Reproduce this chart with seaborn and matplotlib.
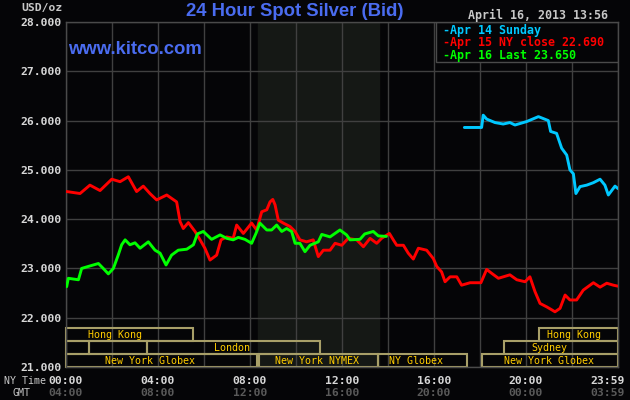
import pandas as pd
import seaborn as sns
import matplotlib
matplotlib.use('Agg')
import matplotlib.pyplot as plt
from matplotlib.patches import Rectangle

# hours after 00:00 NY time, price in USD/oz
apr15_hours = [0.03, 0.61, 1.04, 1.48, 1.99, 2.35, 2.71, 3.07, 3.36, 3.65, 3.94, 4.38, 4.81, 4.96, 5.1,
               5.32, 5.61, 5.83, 6.04, 6.26, 6.55, 6.74, 6.99, 7.27, 7.42, 7.71, 8.07, 8.29, 8.51, 8.73,
               8.87, 8.99, 9.09, 9.23, 9.45, 9.74, 9.96, 10.17, 10.46, 10.75, 10.97, 11.19, 11.48, 11.7,
               11.99, 12.27, 12.64, 12.93, 13.22, 13.51, 13.72, 14.06, 14.23, 14.38, 14.67, 14.88, 15.1,
               15.32, 15.68, 15.97, 16.12, 16.33, 16.48, 16.7, 16.99, 17.2, 17.57, 18.04, 18.29, 18.51,
               18.8, 19.3, 19.6, 19.96, 20.17, 20.39, 20.61, 20.9, 21.12, 21.26, 21.48, 21.7, 21.91,
               22.2, 22.49, 22.93, 23.22, 23.51, 23.8, 24.0]
apr15_price = [24.56, 24.52, 24.69, 24.58, 24.81, 24.76, 24.86, 24.56, 24.67, 24.52, 24.39, 24.49, 24.35,
               23.95, 23.81, 23.93, 23.75, 23.58, 23.41, 23.17, 23.27, 23.58, 23.64, 23.61, 23.88, 23.71,
               23.92, 23.78, 24.15, 24.19, 24.35, 24.40, 24.29, 23.98, 23.92, 23.85, 23.75, 23.58, 23.54,
               23.58, 23.24, 23.37, 23.37, 23.51, 23.47, 23.61, 23.58, 23.44, 23.61, 23.51, 23.61, 23.71,
               23.58, 23.47, 23.47, 23.31, 23.19, 23.41, 23.37, 23.20, 23.04, 22.93, 22.73, 22.83, 22.83,
               22.66, 22.71, 22.71, 22.98, 22.90, 22.80, 22.87, 22.77, 22.73, 22.83, 22.53, 22.29, 22.22,
               22.16, 22.12, 22.19, 22.46, 22.36, 22.36, 22.56, 22.71, 22.62, 22.70, 22.66, 22.64]

apr16_hours = [0.03, 0.1, 0.54, 0.68, 1.04, 1.41, 1.62, 1.84, 2.06, 2.27, 2.42, 2.57, 2.78, 3.0, 3.22,
               3.58, 3.87, 4.09, 4.35, 4.59, 4.88, 5.25, 5.54, 5.71, 5.97, 6.33, 6.7, 6.99, 7.27, 7.49,
               7.78, 8.07, 8.26, 8.43, 8.73, 8.94, 9.16, 9.38, 9.59, 9.81, 9.96, 10.17, 10.39, 10.61,
               10.97, 11.12, 11.48, 11.91, 12.2, 12.35, 12.78, 12.99, 13.36, 13.58, 13.93]
apr16_price = [22.63, 22.80, 22.77, 23.0, 23.05, 23.10, 23.0, 22.89, 23.0, 23.27, 23.48, 23.58, 23.48,
               23.52, 23.41, 23.54, 23.37, 23.31, 23.07, 23.27, 23.37, 23.39, 23.48, 23.70, 23.75, 23.59,
               23.68, 23.61, 23.58, 23.63, 23.59, 23.51, 23.71, 23.92, 23.78, 23.78, 23.88, 23.75, 23.81,
               23.75, 23.51, 23.51, 23.34, 23.47, 23.54, 23.69, 23.64, 23.78, 23.68, 23.58, 23.59, 23.70,
               23.75, 23.66, 23.65]

apr14_hours = [17.32, 18.07, 18.14, 18.29, 18.65, 19.01, 19.3, 19.52, 20.03, 20.54, 20.97, 21.07, 21.33,
               21.55, 21.77, 21.91, 22.06, 22.17, 22.35, 22.64, 22.93, 23.22, 23.43, 23.58, 23.87, 24.0]
apr14_price = [25.86, 25.86, 26.11, 26.03, 25.96, 25.93, 25.96, 25.91, 25.98, 26.08, 26.0, 25.78, 25.74,
               25.44, 25.30, 25.0, 24.92, 24.52, 24.66, 24.69, 24.74, 24.81, 24.69, 24.49, 24.67, 24.62]

series_labels = ['Apr 14 Sunday', 'Apr 15 NY close 22.690', 'Apr 16 Last 23.650']
series_colors = ['#00c8ff', '#ff0000', '#00ff00']

# trading sessions: name, start hour, end hour, row (0 = bottom), label centre hour
sessions = [
    ('Hong Kong', 0.0, 5.52, 2, 2.13),
    ('', 0.0, 1.0, 1, None),
    ('', 1.0, 3.52, 1, None),
    ('London', 3.52, 11.04, 1, 7.2),
    ('New York Globex', 0.0, 8.3, 0, 3.65),
    ('New York NYMEX', 8.4, 13.56, 0, 10.9),
    ('NY Globex', 13.56, 17.43, 0, 15.2),
    ('New York Globex', 18.09, 24.0, 0, 21.0),
    ('Sydney', 19.04, 24.0, 1, 21.02),
    ('Hong Kong', 20.56, 24.0, 2, 22.1),
]

ny_ticks = [0, 4, 8, 12, 16, 20, 23.98]
ny_labels = ['00:00', '04:00', '08:00', '12:00', '16:00', '20:00', '23:59']
gmt_labels = ['04:00', '08:00', '12:00', '16:00', '20:00', '00:00', '03:59']

df = pd.concat([
    pd.DataFrame({'hour': apr14_hours, 'price': apr14_price, 'day': series_labels[0]}),
    pd.DataFrame({'hour': apr15_hours, 'price': apr15_price, 'day': series_labels[1]}),
    pd.DataFrame({'hour': apr16_hours, 'price': apr16_price, 'day': series_labels[2]}),
])

sns.set_style('dark')
plt.rcParams['font.family'] = ['DejaVu Sans Mono']
mono = dict(family='DejaVu Sans Mono', weight='bold')
bg = '#050507'

fig = plt.figure(figsize=(6.3, 4.0), dpi=100, facecolor=bg)
ax = fig.add_axes([66 / 630, 33 / 400, 552 / 630, 345 / 400])
ax.set_facecolor(bg)

ax.axvspan(8.35, 13.6, color='#151815', zorder=0)

sns.lineplot(data=df, x='hour', y='price', hue='day', palette=dict(zip(series_labels, series_colors)),
             estimator=None, sort=False, linewidth=2.1, ax=ax, legend=False, zorder=3)

ax.set_xlim(0, 24)
ax.set_ylim(21, 28)
ax.set_xticks(range(0, 25, 2))
ax.set_yticks(range(21, 29))
ax.set_yticklabels([f'{v:.3f}' for v in range(21, 29)], color='#d8d8d8', fontsize=8.2, **mono)
ax.set_xticklabels([])
ax.tick_params(length=0, pad=3.5)
ax.grid(True, color='#404040', linewidth=1)
ax.set_axisbelow(True)
ax.set_xlabel('')
ax.set_ylabel('')
for s in ax.spines.values():
    s.set_visible(True)
    s.set_color('#4a4a4a')
    s.set_linewidth(1)

# session boxes
row_h = 0.263
for name, start, end, row, mid in sessions:
    y0 = 21 + row * row_h
    ax.add_patch(Rectangle((start, y0), end - start, row_h, fill=False, edgecolor='#a89f68',
                           linewidth=1.5, zorder=2, clip_on=False))
    if name:
        ax.text(mid, y0 + row_h / 2, name, color='#ffcc00', fontsize=7.2, ha='center',
                va='center', zorder=4, family='DejaVu Sans Mono')

# legend box
ax.add_patch(Rectangle((0.67, 0.885), 0.33, 0.115, transform=ax.transAxes, facecolor=bg,
                       edgecolor='#4a4a4a', linewidth=1, zorder=2.5))
for i, (lab, col) in enumerate(zip(series_labels, series_colors)):
    ax.text(0.683, 0.975 - i * 0.0357, '-' + lab, transform=ax.transAxes, color=col,
            fontsize=8.4, va='center', ha='left', zorder=5, **mono)

# time axis labels
for t, ny, gmt in zip(ny_ticks, ny_labels, gmt_labels):
    xt = t if t < 23 else 23.55
    ax.text(xt, -0.04, ny, transform=ax.get_xaxis_transform(), color='#d8d8d8', fontsize=8.2,
            ha='center', va='center', **mono)
    ax.text(xt, -0.075, gmt, transform=ax.get_xaxis_transform(), color='#5a5a5a', fontsize=8.2,
            ha='center', va='center', **mono)
fig.text(4 / 630, 1 - 381 / 400, 'NY Time', color='#c8c8c8', fontsize=7.2, ha='left', va='center',
         family='DejaVu Sans Mono')
fig.text(12 / 630, 1 - 393 / 400, 'GMT', color='#c8c8c8', fontsize=7.2, ha='left', va='center',
         family='DejaVu Sans Mono')

fig.text(21 / 630, 1 - 8 / 400, 'USD/oz', color='#c8c8c8', fontsize=8.2, ha='left', va='center', **mono)
fig.text(295 / 630, 1 - 12 / 400, '24 Hour Spot Silver (Bid)', color='#4a6cf0', fontsize=13.3,
         ha='center', va='center', family='Liberation Sans', weight='bold')
fig.text(68 / 630, 1 - 50 / 400, 'www.kitco.com', color='#4a6cf0', fontsize=13.3, ha='left',
         va='center', family='Liberation Sans', weight='bold')
fig.text(608 / 630, 1 - 15 / 400, 'April 16, 2013 13:56', color='#c8c8c8', fontsize=8.4,
         ha='right', va='center', **mono)

fig.savefig('out.png', dpi=100, facecolor=bg)
